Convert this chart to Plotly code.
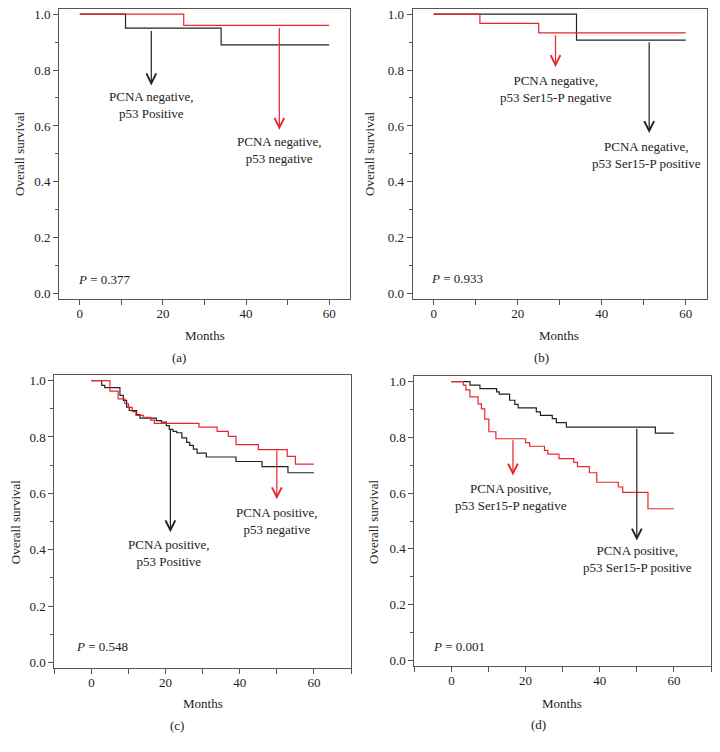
import plotly.graph_objects as go

RED = "#e8262b"
BLACK = "#222222"
FRAME = "#555555"
FONT = "Liberation Serif, Times New Roman, serif"

# panel (a)
a_black_t = [0, 11, 34, 60]
a_black_s = [1.0, 0.95, 0.89, 0.89]
a_red_t = [0, 25, 60]
a_red_s = [1.0, 0.96, 0.96]

# panel (b)
b_red_t = [0, 11, 25, 60]
b_red_s = [1.0, 0.967, 0.933, 0.933]
b_black_t = [0, 34, 60]
b_black_s = [1.0, 0.907, 0.907]

# panel (c)
c_black_t = [0, 2.8, 3.6, 7.7, 8.6, 9.5, 10.2, 12.2, 13.1, 17.5, 18.9, 20.2, 21, 22, 23,
             24.4, 25.7, 26.5, 27.5, 28.5, 31, 39, 46, 53, 60]
c_black_s = [1.0, 0.983, 0.975, 0.948, 0.93, 0.906, 0.894, 0.879, 0.867, 0.858, 0.853, 0.84,
             0.827, 0.82, 0.815, 0.797, 0.781, 0.77, 0.757, 0.743, 0.729, 0.713, 0.695, 0.673, 0.673]
c_red_t = [0, 5, 7.2, 9, 10, 11, 12, 14, 16, 17, 29, 33.9, 36.9, 39, 45, 52.8, 55, 60]
c_red_s = [1.0, 0.963, 0.935, 0.918, 0.905, 0.89, 0.877, 0.87, 0.86, 0.848, 0.835, 0.82,
           0.802, 0.773, 0.755, 0.731, 0.704, 0.704]

# panel (d)
d_black_t = [0, 5, 7.7, 12.2, 12.9, 15.7, 17.1, 18, 22.9, 24, 27.2, 28.3, 31, 55, 60]
d_black_s = [1.0, 0.987, 0.975, 0.963, 0.955, 0.933, 0.918, 0.906, 0.891, 0.879, 0.867,
             0.853, 0.837, 0.815, 0.815]
d_red_t = [0, 3.2, 3.9, 5, 7.2, 8.1, 9, 10.1, 12, 20, 21.1, 25.1, 26, 29, 33, 34, 37.2,
           39.2, 45, 46.2, 53, 60]
d_red_s = [1.0, 0.987, 0.97, 0.945, 0.92, 0.902, 0.865, 0.82, 0.795, 0.781, 0.768, 0.753,
           0.74, 0.724, 0.71, 0.695, 0.673, 0.639, 0.622, 0.603, 0.544, 0.544]

p_values = ["0.377", "0.933", "0.548", "0.001"]
panel_tags = ["(a)", "(b)", "(c)", "(d)"]

# arrows: (x, tail y, head y, colour, label, label x, label y)
arrows = [
    [(17.2, 0.945, 0.745, BLACK, "PCNA negative,<br>p53 Positive", 17.2, 0.675),
     (48, 0.955, 0.586, RED, "PCNA negative,<br>p53 negative", 48, 0.513)],
    [(29, 0.93, 0.811, RED, "PCNA negative,<br>p53 Ser15-P negative", 29, 0.733),
     (51.3, 0.905, 0.575, BLACK, "PCNA negative,<br>p53 Ser15-P positive", 50.6, 0.495)],
    [(21.3, 0.83, 0.462, BLACK, "PCNA positive,<br>p53 Positive", 21, 0.387),
     (50, 0.757, 0.579, RED, "PCNA positive,<br>p53 negative", 50, 0.502)],
    [(16.6, 0.795, 0.663, RED, "PCNA positive,<br>p53 Ser15-P negative", 16.1, 0.585),
     (50, 0.836, 0.43, BLACK, "PCNA positive,<br>p53 Ser15-P positive", 50.3, 0.363)],
]

curves = [
    [(a_black_t, a_black_s, BLACK), (a_red_t, a_red_s, RED)],
    [(b_black_t, b_black_s, BLACK), (b_red_t, b_red_s, RED)],
    [(c_black_t, c_black_s, BLACK), (c_red_t, c_red_s, RED)],
    [(d_black_t, d_black_s, BLACK), (d_red_t, d_red_s, RED)],
]

# page has an 8px body margin, so the figure is laid out in window pixels
W, H, OFF = 704, 736, 8


def fx(px):
    return (px - OFF) / W


def fy(py):
    return 1 - (py - OFF) / H


# plot boxes in window pixels: left, right, top, bottom
boxes = [(59, 350, 8.5, 299.3), (412.7, 706.7, 8.5, 299.3), (54.3, 351, 375, 668), (414.3, 711, 376, 666)]
x_ranges = [[-5, 65], [-5, 65], [-10, 70], [-10, 70]]
p_pos = [(-0.8, 0.052), (-1.2, 0.053), (-4.8, 0.056), (-5.5, 0.049)]
tag_pos = [(179, 357), (541, 357), (177.3, 725.7), (538.3, 724.3)]
months_pos = [(204.5, 335), (559.3, 335), (202.5, 703.3), (562.3, 703.3)]
ylab_pos = [(19, 154), (369, 154), (15.5, 521.7), (373.3, 521.7)]

fig = go.Figure()
annotations = []
layout = {}


def paper_text(x, y, text, angle=0):
    return dict(x=fx(x), y=fy(y), xref="paper", yref="paper", text=text, textangle=angle,
                xanchor="center", yanchor="middle", showarrow=False, font=dict(size=13, color="#222"))


for i in range(4):
    sfx = "" if i == 0 else str(i + 1)
    xa, ya = "x" + sfx, "y" + sfx
    for t, s, col in curves[i]:
        fig.add_trace(go.Scatter(x=t, y=s, mode="lines", line=dict(color=col, width=1.2, shape="hv"),
                                 xaxis=xa, yaxis=ya, showlegend=False, hoverinfo="skip"))

    l, r, top, bot = boxes[i]
    tv = list(range(-10, 71, 10))
    layout["xaxis" + sfx] = dict(
        domain=[fx(l), fx(r)], anchor=ya, range=x_ranges[i], tickvals=tv,
        ticktext=[str(v) if v % 20 == 0 and 0 <= v <= 60 else "" for v in tv],
        ticks="outside", ticklen=5, tickcolor=FRAME, showline=True, linecolor=FRAME,
        linewidth=1, mirror=True, showgrid=False, zeroline=False, ticklabelstandoff=-3,
        automargin=False, ticklabeloverflow="allow", tickfont=dict(size=13, color="#222"),
    )
    layout["yaxis" + sfx] = dict(
        domain=[fy(bot), fy(top)], anchor=xa, range=[-0.02, 1.02], tickvals=[0, 0.2, 0.4, 0.6, 0.8, 1.0],
        tickformat=".1f", ticks="outside", ticklen=5, tickcolor=FRAME, showline=True,
        linecolor=FRAME, linewidth=1, mirror=True, showgrid=False, zeroline=False,
        automargin=False, ticklabeloverflow="allow", tickfont=dict(size=13, color="#222"),
        minor=dict(tickvals=[0.1, 0.3, 0.5, 0.7, 0.9], ticks="outside", ticklen=3, tickcolor=FRAME),
    )

    for x, y0, y1, col, label, lx, ly in arrows[i]:
        annotations.append(dict(
            x=x, y=y1, ax=x, ay=y0, xref=xa, yref=ya, axref=xa, ayref=ya, text="",
            showarrow=True, arrowhead=5, arrowsize=1.6, arrowwidth=1.2, arrowcolor=col, standoff=0,
        ))
        annotations.append(dict(
            x=lx, y=ly, xref=xa, yref=ya, text=label, showarrow=False,
            font=dict(size=13, color="#222"), align="center",
        ))

    px_, py_ = p_pos[i]
    annotations.append(dict(x=px_, y=py_, xref=xa, yref=ya, text="<i>P</i> = " + p_values[i],
                            showarrow=False, xanchor="left", font=dict(size=13, color="#222")))
    annotations.append(paper_text(*tag_pos[i], panel_tags[i]))
    annotations.append(paper_text(*months_pos[i], "Months"))
    annotations.append(paper_text(*ylab_pos[i], "Overall survival", angle=-90))

fig.update_layout(
    width=W, height=H, margin=dict(l=0, r=0, t=0, b=0),
    paper_bgcolor="white", plot_bgcolor="white",
    font=dict(family=FONT, size=13, color="#222"),
    annotations=annotations, **layout,
)

fig.write_html("out.html")
